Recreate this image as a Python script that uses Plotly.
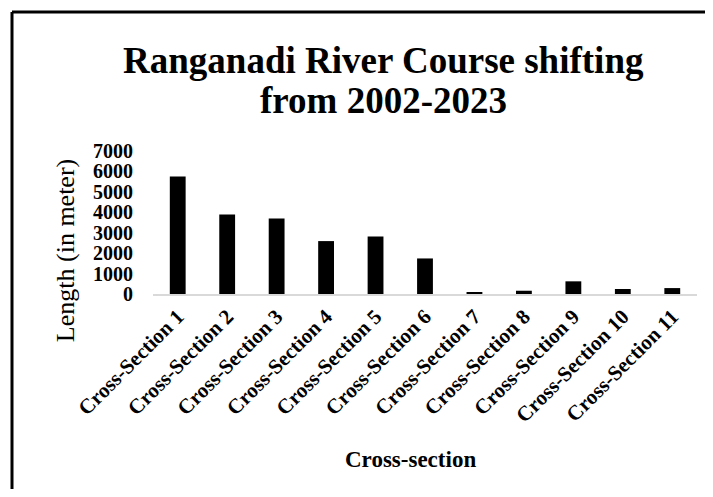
import plotly.graph_objects as go

categories = ["Cross-Section 1", "Cross-Section 2", "Cross-Section 3", "Cross-Section 4",
              "Cross-Section 5", "Cross-Section 6", "Cross-Section 7", "Cross-Section 8",
              "Cross-Section 9", "Cross-Section 10", "Cross-Section 11"]
lengths = [5750, 3890, 3690, 2590, 2810, 1740, 65, 160, 620, 245, 290]
y_ticks = [0, 1000, 2000, 3000, 4000, 5000, 6000, 7000]
title_lines = ["Ranganadi River Course shifting", "from 2002-2023"]

OFF = 8  # page body margin
W, H = 697, 481
# plot area in page pixels: x 153..697, y 150.5..294
L = 153 - OFF
R = W - (697 - OFF)
T = 150.5 - OFF
B = H - (294 - OFF)
pw, ph = W - L - R, H - T - B

def px(x):
    return (x - OFF - L) / pw

def py(y):
    return (H - B - (y - OFF)) / ph

fig = go.Figure(go.Bar(x=categories, y=lengths, marker=dict(color="black", line=dict(width=0))))

fig.update_layout(
    width=W, height=H,
    margin=dict(l=L, r=R, t=T, b=B, autoexpand=False),
    paper_bgcolor="white", plot_bgcolor="white",
    bargap=0.68,
    showlegend=False,
    font=dict(family="Liberation Serif, Times New Roman, serif", color="black"),
    xaxis=dict(tickangle=-45, showgrid=False, showline=True, linecolor="#d9d9d9", linewidth=2,
               automargin=False,
               ticks="", tickfont=dict(size=21, family="Liberation Serif", color="black", weight="bold")),
    yaxis=dict(range=[0, 7000], tickvals=y_ticks, showgrid=False, showline=False, zeroline=False,
               automargin=False, ticklabelstandoff=19,
               ticks="", tickfont=dict(size=20, family="Liberation Serif", color="black", weight="bold")),
)

# chart title (two centred lines)
for line, yc in zip(title_lines, [60, 100]):
    fig.add_annotation(text="<b>" + line + "</b>", xref="paper", yref="paper", x=px(383), y=py(yc),
                       xanchor="center", yanchor="middle", showarrow=False,
                       font=dict(size=37, family="Liberation Serif", color="black"))

# axis titles
fig.add_annotation(text="Length (in meter)", xref="paper", yref="paper", x=px(65), y=py(251),
                   xanchor="center", yanchor="middle", textangle=-90, showarrow=False,
                   font=dict(size=26, family="Liberation Serif", color="black"))
fig.add_annotation(text="<b>Cross-section</b>", xref="paper", yref="paper", x=px(410), y=py(460),
                   xanchor="center", yanchor="middle", showarrow=False,
                   font=dict(size=23, family="Liberation Serif", color="black"))

# outer frame (left and top edges visible)
fig.add_shape(type="line", xref="paper", yref="paper", x0=px(12), x1=px(720), y0=py(11), y1=py(11),
              line=dict(color="black", width=3))
fig.add_shape(type="line", xref="paper", yref="paper", x0=px(12), x1=px(12), y0=py(11), y1=py(505),
              line=dict(color="black", width=3))

fig.write_html("out.html")
